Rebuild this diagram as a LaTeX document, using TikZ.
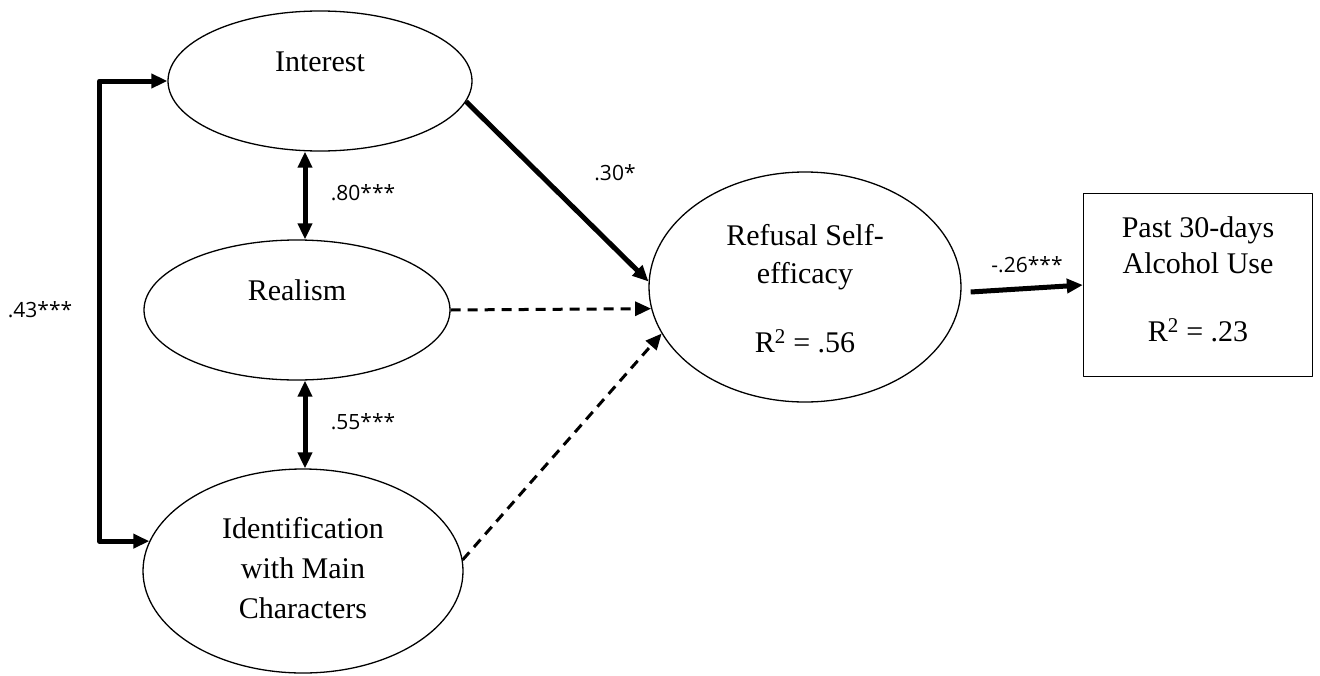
\documentclass[tikz,border=0pt]{standalone}
\usepackage{fontspec}
\setmainfont{Liberation Serif}
\newfontfamily\coeffont{Open Sans}
\usetikzlibrary{shapes.geometric,arrows.meta}

\begin{document}
\begin{tikzpicture}[x=1pt,y=-1pt,>={Triangle[length=16pt,width=14pt]},line join=round,
		latent/.style={ellipse,draw,line width=1.3pt,inner sep=0pt},
		obs/.style={rectangle,draw,line width=1.3pt,inner sep=0pt},
		txt/.style={font=\fontsize{30}{38}\selectfont,align=center},
		coef/.style={font=\coeffont\fontsize{21}{26}\selectfont},
		sig/.style={line width=5pt},
		nsig/.style={line width=3pt,dash pattern=on 10pt off 7pt}]
	\useasboundingbox (0,0) rectangle (1320,675);
	% latent variables
	\node[latent,minimum width=304,minimum height=140] (int) at (320,81) {};
	\node[latent,minimum width=306,minimum height=140] (rea) at (297,310) {};
	\node[latent,minimum width=320,minimum height=204] (idn) at (303,571) {};
	\node[latent,minimum width=312,minimum height=230] (ref) at (805,287) {};
	\node[obs,minimum width=229,minimum height=183] (alc) at (1198,285) {};
	% texts
	\node[txt] (intT) at (320,62) {Interest};
	\node[txt] (reaT) at (297,290) {Realism};
	\node[txt,font=\fontsize{30}{40}\selectfont] (idnT) at (303,568) {Identification\\with Main\\Characters};
	\node[txt] (refT) at (805,289) {Refusal Self-\\efficacy\\[31pt]R\textsuperscript{2} = .56};
	\node[txt,font=\fontsize{30}{36}\selectfont] (alcT) at (1198,279) {Past 30-days\\Alcohol Use\\[32pt]R\textsuperscript{2} = .23};
	% correlations
	\coordinate (mid) at (305,0);
	\draw[sig,<->] (int.south -| mid) -- (rea.north -| mid);
	\draw[sig,<->] (rea.south -| mid) -- (idn.north -| mid);
	\draw[sig,<->] (int.west) -- ++(-68,0) |- (idn.169);
	\draw[sig,->] (int.-8) -- (ref.178);
	% paths
	\draw[nsig,->] (rea.east) -- (ref.188);
	\draw[nsig,->] (idn.4) -- (ref.198);
	\coordinate (rs) at ([shift={(9,5)}]ref.east);
	\draw[sig,->] (rs) -- (alc.west);
	% coefficients
	\node[coef] (c80) at (363,193) {.80***};
	\node[coef] (c55) at (363,422) {.55***};
	\node[coef] (c43) at (40,310) {.43***};
	\node[coef] (c30) at (615,173) {.30*};
	\node[coef] (c26) at (1027,265) {-.26***};
\end{tikzpicture}
\end{document}
